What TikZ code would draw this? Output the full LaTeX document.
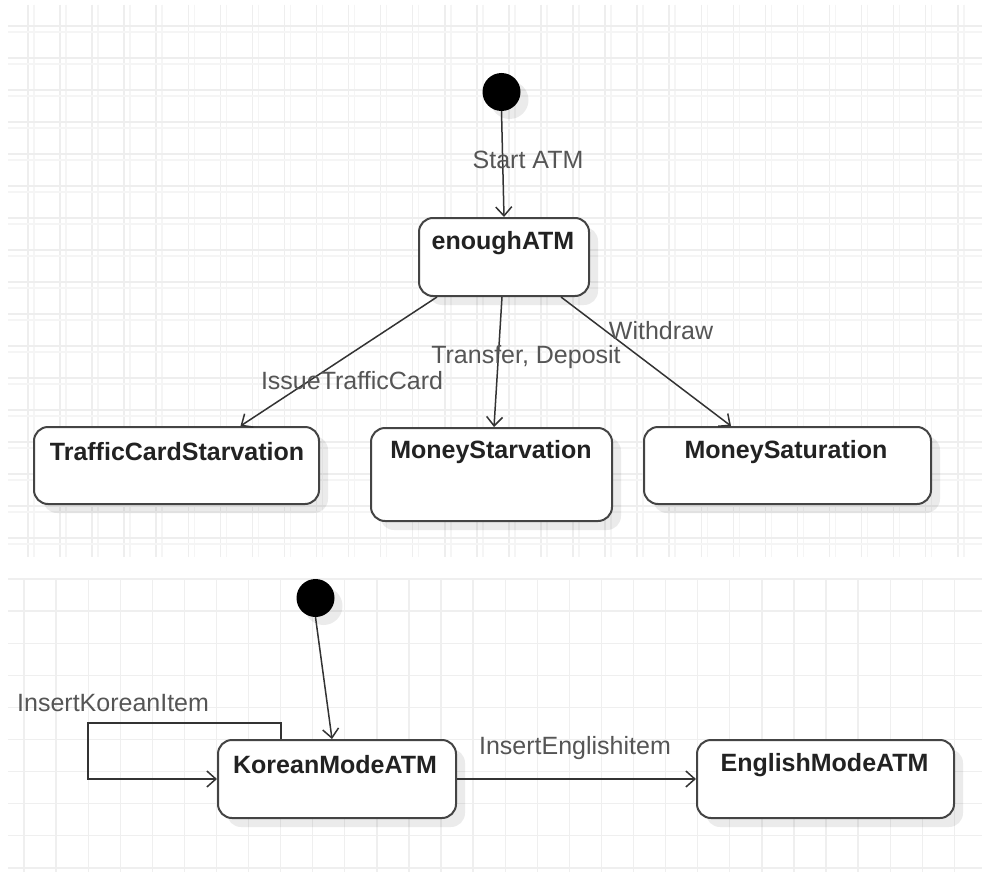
\documentclass[tikz,border=0pt]{standalone}
\usepackage{fontspec}
\setmainfont{Liberation Sans}
\usetikzlibrary{arrows.meta,shadows,calc}
\definecolor{lineC}{HTML}{333333}
\definecolor{boxC}{HTML}{444444}
\definecolor{nameC}{HTML}{222222}
\definecolor{lblC}{HTML}{555555}
\definecolor{gridA}{HTML}{EEEEEE}
\definecolor{gridB}{HTML}{F5F5F5}
\definecolor{gridC}{HTML}{EFEFEF}
\begin{document}
\begin{tikzpicture}[x=1pt,y=-1pt,
  statebox/.style={draw=boxC, line width=2pt, rounded corners=14pt, fill=white,
    drop shadow={shadow xshift=9pt, shadow yshift=-9pt, opacity=0.08, fill=black},
    inner sep=0pt, anchor=north west},
  initdot/.style={circle, fill=black, minimum size=38pt, inner sep=0pt,
    drop shadow={shadow xshift=8pt, shadow yshift=-8pt, opacity=0.08, fill=black}},
  stname/.style={text=nameC, font=\fontsize{25}{30}\selectfont\bfseries, inner sep=0pt},
  lbl/.style={text=lblC, font=\fontsize{25}{30}\selectfont, inner sep=0pt},
  trans/.style={draw=lineC, line width=1.5pt, -{Straight Barb[length=9pt,width=16pt,line width=1.5pt]}},
]
\useasboundingbox (0,0) rectangle (982,872);
\fill[white] (0,0) rectangle (982,872);
% top panel grid
\foreach \i in {0,...,29} {
  \draw[gridA, line width=1.5pt] ({28+32.06*\i},5) -- ({28+32.06*\i},557);
  \draw[gridB, line width=1.5pt] ({34+32.06*\i},5) -- ({34+32.06*\i},557);
}
\foreach \j in {0,...,16} {
  \draw[gridA, line width=1.5pt] (8,{26+32*\j}) -- (982,{26+32*\j});
  \draw[gridB, line width=1.5pt] (8,{32+32*\j}) -- (982,{32+32*\j});
}
% bottom panel grid
\foreach \i in {0,...,29} {
  \draw[gridC, line width=1.3pt] ({24+32.08*\i},578) -- ({24+32.08*\i},872);
}
\foreach \j in {0,...,9} {
  \draw[gridC, line width=1.3pt] (8,{579+32.1*\j}) -- (982,{579+32.1*\j});
}

% ---- top diagram ----
\node[initdot] (init1) at (501.5,92) {};
\node[statebox, minimum width=170pt, minimum height=78pt] (ea) at (418,217) {};
\node[stname] (eat) at (503,243) {enoughATM};
\node[statebox, minimum width=285pt, minimum height=77pt] (tc) at (33,426) {};
\node[stname] (tct) at (177,452) {TrafficCardStarvation};
\node[statebox, minimum width=241pt, minimum height=93pt] (ms) at (370,427) {};
\node[stname] (mst) at (491,452) {MoneyStarvation};
\node[statebox, minimum width=287pt, minimum height=77pt] (msa) at (643,426) {};
\node[stname] (msat) at (786,452) {MoneySaturation};

\draw[trans] (init1.south) -- (ea.north);
\draw[trans] ($(ea.south)+(-67,0)$) -- ($(tc.north)+(64,0)$);
\draw[trans] ($(ea.south)+(-2,0)$) -- ($(ms.north)+(2.5,0)$);
\draw[trans] ($(ea.south)+(57,0)$) -- ($(msa.north)+(-56.5,0)$);

\node[lbl] (l1) at (528,160) {Start ATM};
\node[lbl] (l2) at (352,381) {IssueTrafficCard};
\node[lbl] (l3) at (526,357) {Transfer, Deposit};
\node[lbl] (l4) at (661,331) {Withdraw};

% ---- bottom diagram ----
\node[initdot] (init2) at (315.5,598) {};
\node[statebox, minimum width=238pt, minimum height=78pt] (k) at (217,739) {};
\node[stname] (kt) at (335,765) {KoreanModeATM};
\node[statebox, minimum width=257pt, minimum height=78pt] (e) at (696,739) {};
\node[stname] (et) at (824.5,765) {EnglishModeATM};

\draw[trans] (init2.south) -- ($(k.north)+(-5,0)$);
\coordinate (loopA) at (88,723);
\draw[trans] ($(k.north west)+(64,0)$) |- (loopA) |- (k.west);
\draw[trans] (k.east) -- (k.east -| e.west);

\node[lbl, anchor=west] (l5) at (17,703) {InsertKoreanItem};
\node[lbl] (l6) at (575,748) {InsertEnglishitem};
\end{tikzpicture}
\end{document}
